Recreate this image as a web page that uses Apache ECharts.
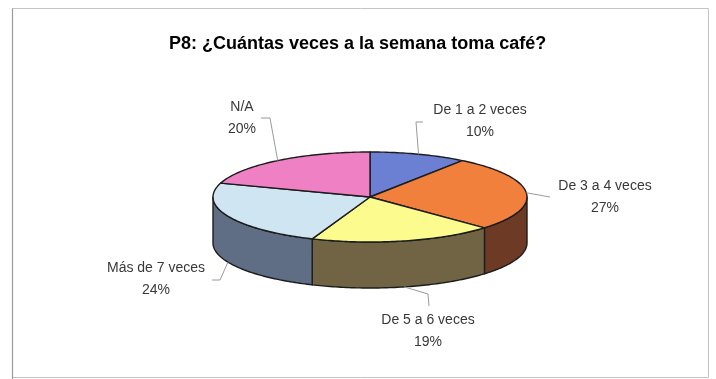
<!DOCTYPE html>
<html>
<head>
<meta charset="utf-8">
<script src="https://cdn.jsdelivr.net/npm/echarts@6/dist/echarts.min.js"></script>
<style>
  html, body { margin: 0; padding: 0; background: #ffffff; }
  #chart { width: 716px; height: 379px; }
</style>
</head>
<body>
<div id="chart"></div>
<script>
// Answers to P8, share of respondents (%)
const categories = ['De 1 a 2 veces', 'De 3 a 4 veces', 'De 5 a 6 veces', 'Más de 7 veces', 'N/A'];
const shares = [10, 27, 19, 24, 20];

// Face and wall colours of each slice
const topColors = ['#6b7fd3', '#f0803c', '#fbfb8e', '#cfe6f2', '#ef80c4'];
const sideColors = ['#3c4a8a', '#6d3a26', '#706445', '#5f6d85', '#8a3f6e'];

// Geometry of the tilted disc
const CX = 370, CY = 197, RX = 157, RY = 45, DEPTH = 46;

// Label boxes and the elbow points of their leader lines
const labelPos = [[480, 121], [605, 197], [428, 331], [156, 279], [242, 118]];
const leaderBends = [
  [[416, 122], [423, 122]],
  [[550, 197]],
  [[428, 294], [429, 306]],
  [[220, 280], [212, 280]],
  [[270, 118], [261, 118]]
];

const total = shares.reduce((a, b) => a + b, 0);
const startAngles = [];
let acc = 0;
shares.forEach(v => { startAngles.push(acc / total * Math.PI * 2); acc += v; });

function pt(theta, dy) {
  return [CX + RX * Math.sin(theta), CY - RY * Math.cos(theta) + (dy || 0)];
}
function arc(a1, a2, dy) {
  const pts = [];
  const n = Math.max(2, Math.ceil((a2 - a1) / (Math.PI / 180)));
  for (let k = 0; k <= n; k++) pts.push(pt(a1 + (a2 - a1) * k / n, dy));
  return pts;
}
function span(i, api) {
  const a1 = startAngles[i];
  return [a1, a1 + api.value(1) / total * Math.PI * 2];
}

const seriesData = categories.map((c, i) => ({ name: c, value: [i, shares[i]] }));
const outline = { stroke: '#1c1c1c', lineWidth: 1.4, lineJoin: 'round' };

const chart = echarts.init(document.getElementById('chart'), null, { renderer: 'canvas' });
chart.setOption({
  backgroundColor: '#ffffff',
  animation: false,
  title: {
    text: 'P8: ¿Cuántas veces a la semana toma café?',
    left: 164,
    top: 30,
    textStyle: { fontFamily: 'Liberation Sans, Arial, sans-serif', fontSize: 18, fontWeight: 'bold', color: '#000000' }
  },
  graphic: [
    { type: 'polyline', silent: true, shape: { points: [[12.5, 379], [12.5, 8.5], [708.5, 8.5], [708.5, 377.5], [12.5, 377.5]] },
      style: { stroke: '#c4c4c4', lineWidth: 1, fill: null } },
    { type: 'line', silent: true, shape: { x1: 12.5, y1: 8.5, x2: 12.5, y2: 379 }, style: { stroke: '#9a9a9a', lineWidth: 1.2 } }
  ],
  series: [
    {
      // side walls of the front half
      type: 'custom', coordinateSystem: 'none', silent: true, z: 1,
      data: seriesData,
      renderItem: function (params, api) {
        const i = params.dataIndex;
        const [a1, a2] = span(i, api);
        const s = Math.max(a1, Math.PI / 2), e = Math.min(a2, Math.PI * 1.5);
        if (e <= s) return { type: 'group', children: [] };
        const pts = arc(s, e, 0).concat(arc(s, e, DEPTH).reverse());
        return { type: 'polygon', shape: { points: pts }, style: Object.assign({ fill: sideColors[i] }, outline) };
      }
    },
    {
      // top faces
      type: 'custom', coordinateSystem: 'none', silent: true, z: 2,
      data: seriesData,
      renderItem: function (params, api) {
        const i = params.dataIndex;
        const [a1, a2] = span(i, api);
        const pts = [[CX, CY]].concat(arc(a1, a2, 0));
        return { type: 'polygon', shape: { points: pts }, style: Object.assign({ fill: topColors[i] }, outline) };
      }
    },
    {
      // labels with leader lines
      type: 'custom', coordinateSystem: 'none', silent: true, z: 3,
      data: seriesData,
      renderItem: function (params, api) {
        const i = params.dataIndex;
        const [a1, a2] = span(i, api);
        const mid = (a1 + a2) / 2;
        const front = Math.cos(mid) < -0.2 || (Math.sin(mid) < 0 && Math.cos(mid) < 0);
        const anchor = pt(mid, front ? DEPTH : 0);
        const pct = Math.round(api.value(1) / total * 100) + '%';
        return {
          type: 'group',
          children: [
            { type: 'polyline', shape: { points: [anchor].concat(leaderBends[i]) },
              style: { stroke: '#9a9a9a', lineWidth: 1, fill: null } },
            { type: 'text', x: labelPos[i][0], y: labelPos[i][1],
              style: { text: categories[i] + '\n' + pct, align: 'center', verticalAlign: 'middle',
                       lineHeight: 22, fontSize: 14, fontFamily: 'Liberation Sans, Arial, sans-serif', fill: '#383838' } }
          ]
        };
      }
    }
  ]
});
</script>
</body>
</html>
